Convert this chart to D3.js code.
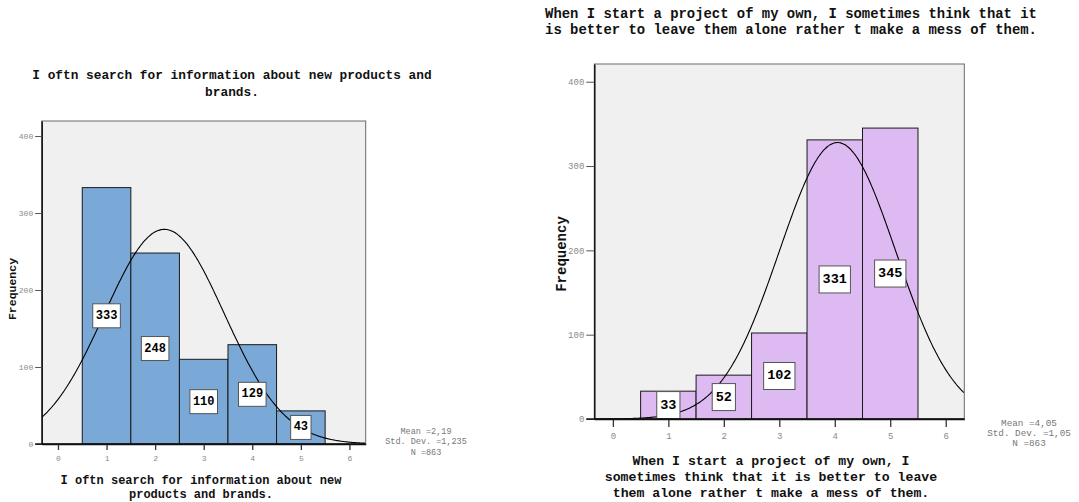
<!DOCTYPE html>
<html>
<head>
<meta charset="utf-8">
<script src="https://cdn.jsdelivr.net/npm/d3@7"></script>
<style>
  html, body { margin: 0; padding: 0; background: #ffffff; }
  svg { display: block; }
  text { font-family: "Liberation Mono", "DejaVu Sans Mono", monospace; }
</style>
</head>
<body>
<svg id="chart" width="1079" height="502"></svg>
<script>
// ---------- data ----------
const categories = [1, 2, 3, 4, 5];
const xTickValues = [0, 1, 2, 3, 4, 5, 6];
const yTickValues = [0, 100, 200, 300, 400];

const searchFreq = [333, 248, 110, 129, 43];
const searchStats = [2.19, 1.235, 863];          // mean, sd, N
const searchStatLabels = ["Mean =2,19", "Std. Dev. =1,235", "N =863"];
const searchTitle = ["I oftn search for information about new products and", "brands."];
const searchXLabel = ["I oftn search for information about new", "products and brands."];

const projectFreq = [33, 52, 102, 331, 345];
const projectStats = [4.05, 1.05, 863];
const projectStatLabels = ["Mean =4,05", "Std. Dev. =1,05", "N =863"];
const projectTitle = ["When I start a project of my own, I sometimes think that it",
                      "is better to leave them alone rather t make a mess of them."];
const projectXLabel = ["When I start a project of my own, I",
                       "sometimes think that it is better to leave",
                       "them alone rather t make a mess of them."];

const yLabel = "Frequency";

// ---------- drawing ----------
const svg = d3.select("#chart");

function drawHistogram(opt) {
  const g = svg.append("g");
  const x = d3.scaleLinear().domain([-0.335, 6.335]).range([opt.left, opt.right]);
  const y = d3.scaleLinear().domain([0, opt.yMax]).range([opt.bottom, opt.top]);

  // plot background
  g.append("rect")
    .attr("x", opt.left).attr("y", opt.top)
    .attr("width", opt.right - opt.left).attr("height", opt.bottom - opt.top)
    .attr("fill", "#f0f0f0").attr("stroke", "#6a6a6a").attr("stroke-width", 1);

  // bars
  g.selectAll("rect.bar").data(opt.values).enter().append("rect")
    .attr("class", "bar")
    .attr("x", (d, i) => x(opt.cats[i] - 0.5))
    .attr("width", (d, i) => x(opt.cats[i] + 0.5) - x(opt.cats[i] - 0.5))
    .attr("y", d => y(d))
    .attr("height", d => y(0) - y(d))
    .attr("fill", opt.color).attr("stroke", "#1a1a1a").attr("stroke-width", 1);

  // normal curve
  const [mean, sd, n] = opt.stats;
  const clipId = "clip" + opt.id;
  svg.append("clipPath").attr("id", clipId).append("rect")
    .attr("x", opt.left).attr("y", opt.top)
    .attr("width", opt.right - opt.left).attr("height", opt.bottom - opt.top);
  const xs = d3.range(-0.335, 6.34, 0.02);
  const dens = v => n / (sd * Math.sqrt(2 * Math.PI)) * Math.exp(-0.5 * ((v - mean) / sd) ** 2);
  g.append("path")
    .attr("clip-path", `url(#${clipId})`)
    .attr("d", d3.line().x(v => x(v)).y(v => y(dens(v))).curve(d3.curveBasis)(xs))
    .attr("fill", "none").attr("stroke", "#000").attr("stroke-width", 1.1);

  // value labels
  const lab = g.selectAll("g.lab").data(opt.values).enter().append("g")
    .attr("class", "lab")
    .attr("transform", (d, i) => `translate(${x(opt.cats[i])},${y(d / 2)})`);
  lab.each(function (d) {
    const s = d3.select(this);
    const t = s.append("text").text(d)
      .attr("text-anchor", "middle").attr("dominant-baseline", "central")
      .attr("font-size", opt.labelFont).attr("font-weight", "bold").attr("fill", "#000");
    const w = t.node().getComputedTextLength() + opt.labelPad * 2;
    s.insert("rect", "text")
      .attr("x", -w / 2).attr("y", -opt.labelH / 2)
      .attr("width", w).attr("height", opt.labelH)
      .attr("fill", "#fff").attr("stroke", "#555").attr("stroke-width", 1);
  });

  // axes
  const yAxis = g.append("g").attr("transform", `translate(${opt.left},0)`)
    .call(d3.axisLeft(y).tickValues(yTickValues).tickFormat(d3.format("d"))
      .tickSize(opt.yTick).tickSizeOuter(0).tickPadding(2));
  yAxis.select(".domain").attr("stroke", "#111").attr("stroke-width", 1.5);
  yAxis.selectAll(".tick line").attr("stroke", "#555");
  yAxis.selectAll(".tick text").attr("font-size", opt.tickFont).attr("fill", "#8a8a8a")
    .attr("font-family", "'Liberation Mono', monospace");

  const xAxis = g.append("g").attr("transform", `translate(0,${opt.bottom})`)
    .call(d3.axisBottom(x).tickValues(xTickValues).tickFormat(d3.format("d"))
      .tickSize(opt.xTick).tickSizeOuter(0).tickPadding(opt.xPad));
  xAxis.select(".domain").attr("stroke", "#111").attr("stroke-width", 1.5);
  xAxis.selectAll(".tick line").attr("stroke", "#333").attr("stroke-width", 1.3);
  xAxis.selectAll(".tick text").attr("font-size", opt.tickFont).attr("fill", "#8a8a8a")
    .attr("font-family", "'Liberation Mono', monospace");
  // extend baseline to the left like the 0 tick
  g.append("line")
    .attr("x1", opt.left - opt.yTick).attr("x2", opt.right)
    .attr("y1", opt.bottom).attr("y2", opt.bottom)
    .attr("stroke", "#111").attr("stroke-width", 1.5);

  // title
  opt.title.forEach((line, i) => {
    g.append("text").text(line)
      .attr("x", opt.titleX).attr("y", opt.titleY + i * opt.titleGap)
      .attr("text-anchor", "middle").attr("dominant-baseline", "central")
      .attr("font-size", opt.titleFont).attr("font-weight", "bold").attr("fill", "#111");
  });
  // x label
  opt.xLabel.forEach((line, i) => {
    g.append("text").text(line)
      .attr("x", opt.xLabelX).attr("y", opt.xLabelY + i * opt.xLabelGap)
      .attr("text-anchor", "middle").attr("dominant-baseline", "central")
      .attr("font-size", opt.xLabelFont).attr("font-weight", "bold").attr("fill", "#111");
  });
  // y label
  g.append("text").text(yLabel)
    .attr("transform", `translate(${opt.yLabelX},${opt.yLabelY}) rotate(-90)`)
    .attr("text-anchor", "middle").attr("dominant-baseline", "central")
    .attr("font-size", opt.yLabelFont).attr("font-weight", "bold").attr("fill", "#111");
  // stats
  opt.statLabels.forEach((line, i) => {
    g.append("text").text(line)
      .attr("x", opt.statX).attr("y", opt.statY + i * opt.statGap)
      .attr("text-anchor", "middle").attr("dominant-baseline", "central")
      .attr("font-size", opt.statFont).attr("fill", "#777");
  });
}

drawHistogram({
  id: "L", cats: categories, values: searchFreq, stats: searchStats, statLabels: searchStatLabels,
  title: searchTitle, xLabel: searchXLabel, color: "#7aa9d7",
  left: 41.7, right: 365.7, top: 121, bottom: 444, yMax: 419.5,
  labelFont: 12, labelPad: 3, labelH: 24,
  tickFont: 8, yTick: 6.5, xTick: 6, xPad: 5,
  titleX: 232, titleY: 75.7, titleGap: 16.3, titleFont: 12.8,
  xLabelX: 201, xLabelY: 480.5, xLabelGap: 14.5, xLabelFont: 12,
  yLabelX: 12.5, yLabelY: 289, yLabelFont: 11.5,
  statX: 426, statY: 432, statGap: 10.3, statFont: 8.5
});

drawHistogram({
  id: "R", cats: categories, values: projectFreq, stats: projectStats, statLabels: projectStatLabels,
  title: projectTitle, xLabel: projectXLabel, color: "#debaf2",
  left: 594.3, right: 964.3, top: 64, bottom: 419, yMax: 421,
  labelFont: 13.5, labelPad: 3.5, labelH: 27,
  tickFont: 9, yTick: 8, xTick: 8, xPad: 6,
  titleX: 791, titleY: 14, titleGap: 15.5, titleFont: 13.9,
  xLabelX: 771, xLabelY: 461, xLabelGap: 16.3, xLabelFont: 13.2,
  yLabelX: 561.5, yLabelY: 254, yLabelFont: 14,
  statX: 1029, statY: 423, statGap: 10.3, statFont: 9.3
});
</script>
</body>
</html>
